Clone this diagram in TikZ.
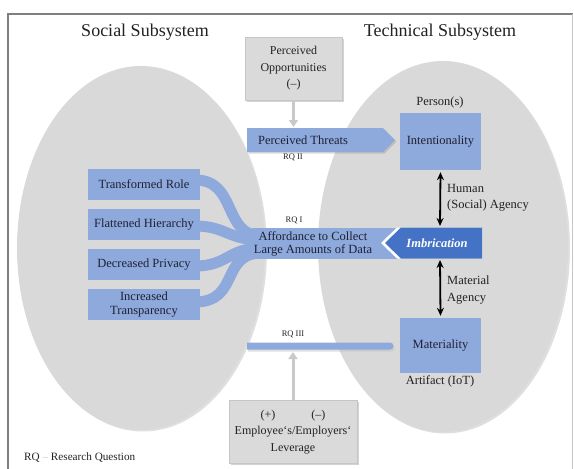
\documentclass[tikz,border=0pt]{standalone}
\usepackage{fontspec}
\setmainfont{Liberation Serif}
\usetikzlibrary{arrows.meta,shapes.geometric,shadows}
\definecolor{ellgray}{HTML}{D9D9D9}
\definecolor{boxgray}{HTML}{DADADA}
\definecolor{ltblue}{HTML}{8EA9DB}
\definecolor{imbblue}{HTML}{4472C4}
\definecolor{txtblue}{HTML}{1E2235}
\definecolor{txtdark}{HTML}{222222}
\definecolor{framecol}{HTML}{7F7F7F}
\definecolor{garrow}{HTML}{C9C9C9}
\begin{document}
\begin{tikzpicture}[x=1pt,y=-1pt,
  ell/.style={ellipse, fill=ellgray, inner sep=0pt,
    drop shadow={opacity=0.25, shadow xshift=2pt, shadow yshift=-1.5pt}},
  bluebox/.style={rectangle, fill=ltblue, inner sep=0pt, text=txtblue,
    font=\fontsize{12.5}{14}\selectfont, align=center},
  btext/.style={text=txtblue, font=\fontsize{12.5}{13}\selectfont, align=center, inner sep=0pt},
  graybox/.style={rectangle, fill=boxgray, draw=gray!45, line width=0.4pt, inner sep=0pt,
    align=center, text=txtdark, font=\fontsize{12}{16.5}\selectfont,
    drop shadow={opacity=0.35, shadow xshift=1.5pt, shadow yshift=-1.5pt}},
  titletext/.style={font=\fontsize{18}{20}\selectfont, text=txtdark},
  lbl/.style={font=\fontsize{12.5}{16.5}\selectfont, align=left, text=txtdark, inner sep=0pt},
  rq/.style={font=\fontsize{8.5}{10}\selectfont, text=txtdark, inner sep=0pt},
  ribbon/.style={draw=ltblue, line width=11pt},
  dbl/.style={{Stealth[length=8pt,width=7pt]}-{Stealth[length=8pt,width=7pt]}, line width=1.8pt, black},
  garr/.style={-{Triangle[length=7pt,width=9pt]}, draw=garrow, line width=3pt},
]
\useasboundingbox (0,0) rectangle (574,469);
\draw[framecol, line width=1.2pt] (8,480) -- (8,14) -- (572.5,14);
\draw[framecol!45, line width=1pt] (572.5,14) -- (572.5,480);

% titles
\node[titletext] (tsoc) at (145,32) {Social Subsystem};
\node[titletext] (ttec) at (440,32) {Technical Subsystem};

% subsystems
\node[ell, minimum width=248pt, minimum height=364pt] (lell) at (141,248) {};
\node[ell, minimum width=250pt, minimum height=371pt] (rell) at (443,246.5) {};

% perceived opportunities
\node[graybox, minimum width=97pt, minimum height=63pt] (popp) at (293.5,68.5) {Perceived\\Opportunities\\(–)};
\coordinate (thrtop) at (293.5,127);
\draw[garr] (popp.south) -- (thrtop);

% perceived threats
\fill[ltblue, drop shadow={opacity=0.3, shadow xshift=1.5pt, shadow yshift=-1.5pt}]
  (247,128) -- (383,128) -- (395,140) -- (383,152) -- (247,152) -- cycle;
\node[btext] (thr) at (303,140) {Perceived Threats};
\node[rq] (rq2) at (293,157) {RQ II};

% ribbons into affordance
\node[bluebox, minimum width=146pt, minimum height=31pt] (aff) at (325,243.5) {};
\coordinate (r1) at (262,236);
\coordinate (r2) at (262,240);
\coordinate (r3) at (262,248);
\coordinate (r4) at (262,253);
\coordinate (s1) at (195,180);
\coordinate (s2) at (195,226);
\coordinate (s3) at (195,266);
\coordinate (s4) at (195,302);
\draw[ribbon] (s1) .. controls (238,180) and (222,236) .. (r1);
\draw[ribbon] (s2) .. controls (226,226) and (228,240) .. (r2);
\draw[ribbon] (s3) .. controls (228,266) and (228,248) .. (r3);
\draw[ribbon] (s4) .. controls (240,302) and (220,253) .. (r4);
\fill[ltblue] (252,228) rectangle (300,259);

\node[bluebox, minimum width=112pt, minimum height=31pt] (tr) at (144,184.5) {Transformed Role};
\node[bluebox, minimum width=112pt, minimum height=31pt] (fh) at (144,224.5) {Flattened Hierarchy};
\node[bluebox, minimum width=112pt, minimum height=31pt] (dp) at (144,264.5) {Decreased Privacy};
\node[bluebox, minimum width=112pt, minimum height=31pt] (it) at (144,304.5) {Increased\\Transparency};

\node[btext] (afftext) at (313,243.5) {Affordance to Collect\\Large Amounts of Data};
\node[rq] (rq1) at (294,220) {RQ I};

% imbrication
\fill[white] (381,243) -- (397,227.5) -- (482,227.5) -- (482,258.5) -- (397,258.5) -- cycle;
\fill[imbblue] (385,243) -- (401,227.5) -- (482,227.5) -- (482,258.5) -- (401,258.5) -- cycle;
\node[font=\bfseries\itshape\fontsize{12.5}{14}\selectfont, text=white] (imbr) at (437,243) {Imbrication};
\coordinate (imbT) at (440,228);
\coordinate (imbB) at (440,258);

% technical side
\node[lbl] (pers) at (440,102) {Person(s)};
\node[bluebox, minimum width=81pt, minimum height=57pt] (int) at (440.5,141.5) {Intentionality};
\node[bluebox, minimum width=81pt, minimum height=55pt] (mat) at (440.5,345.5) {Materiality};
\node[lbl] (art) at (440,381) {Artifact (IoT)};
\draw[dbl] ([yshift=-2pt]int.south) -- ([yshift=2pt]imbT);
\draw[dbl] ([yshift=-2pt]imbB) -- ([yshift=2pt]mat.north);
\node[lbl, anchor=west] (hum) at (447,198) {Human\\(Social) Agency};
\node[lbl, anchor=west] (matag) at (447,290) {Material\\Agency};

% RQ III bar
\coordinate (b0) at (247,346);
\coordinate (b1) at (390,346);
\fill[black!25, opacity=0.5] (248,344.5) -- (391,344.5) arc[start angle=90, end angle=-90, radius=3.5pt] -- (248,351.5) -- cycle;
\fill[ltblue] (247,342.5) -- (390,342.5) arc[start angle=90, end angle=-90, radius=3.5pt] -- (247,349.5) -- cycle;
\node[rq] (rq3) at (293,334) {RQ III};

% leverage
\node[graybox, minimum width=128pt, minimum height=63pt] (lev) at (293,432) {(+)\hspace{36pt}(–)\\Employee‘s/Employers‘\\Leverage};
\coordinate (barbot) at (293,352);
\draw[garr] (lev.north) -- (barbot);

% legend
\node[font=\fontsize{11.2}{13}\selectfont, text=txtdark, anchor=west, inner sep=0pt] (leg) at (24,458) {RQ \textcolor{gray!45}{–} Research Question};
\end{tikzpicture}
\end{document}
